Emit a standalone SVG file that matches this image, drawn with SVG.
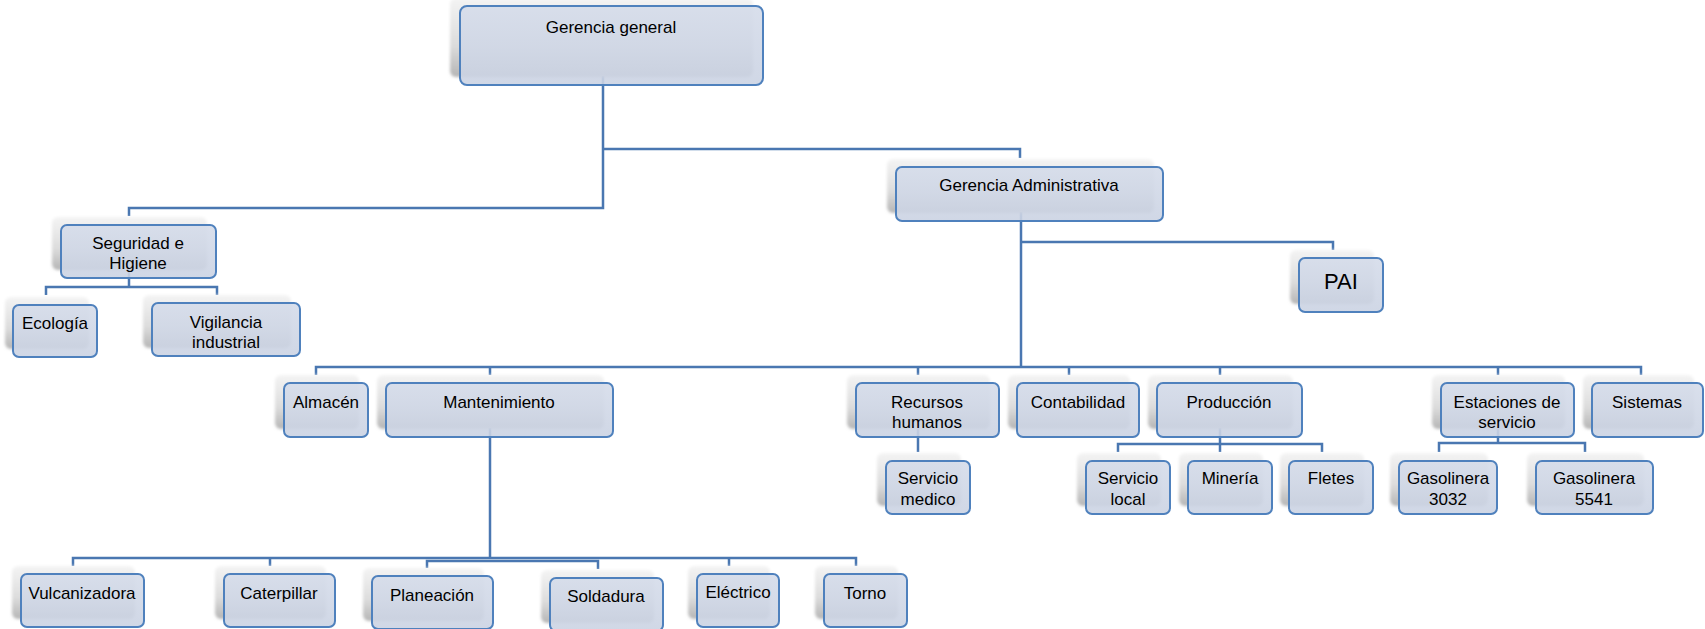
<svg xmlns="http://www.w3.org/2000/svg" width="1705" height="629" viewBox="0 0 1705 629">
<defs>
<linearGradient id="sh" x1="0" y1="0" x2="0" y2="1">
<stop offset="0" stop-color="#f4f4f4"/>
<stop offset="0.6" stop-color="#dcdcdc"/>
<stop offset="1" stop-color="#b5b5b5"/>
</linearGradient>
<linearGradient id="bx" x1="0" y1="0" x2="0" y2="1">
<stop offset="0" stop-color="#d5dcea"/>
<stop offset="1" stop-color="#cbd3e3"/>
</linearGradient>
<filter id="blur" x="-10%" y="-20%" width="120%" height="140%">
<feGaussianBlur stdDeviation="1.6"/>
</filter>
<style>
.c{fill:none;stroke:#4a77b1;stroke-width:2.5}
.s{fill:url(#sh);filter:url(#blur)}
.b{fill:url(#bx);fill-opacity:0.9;stroke:#4f81bd;stroke-width:2}
.t{font-family:"Liberation Sans",Arial,sans-serif;font-size:17px;fill:#000;text-anchor:middle}
.p{font-size:22px}
</style>
</defs>
<rect width="1705" height="629" fill="#fff"/>
<g id="connectors">
<path class="c" d="M603,76 V208 H129 V216"/>
<path class="c" d="M603,149 H1020 V158"/>
<path class="c" d="M1021,212 V367"/>
<path class="c" d="M1021,242 H1333 V250"/>
<path class="c" d="M316,375 V367 H1641 V375"/>
<path class="c" d="M490,367 V375 M918,367 V375 M1069,367 V375 M1220,367 V375 M1498,367 V375"/>
<path class="c" d="M129,270 V287"/>
<path class="c" d="M46,295 V287 H217 V295"/>
<path class="c" d="M490,428 V558"/>
<path class="c" d="M73,566 V558 H856 V566"/>
<path class="c" d="M270,558 V566 M729,558 V566"/>
<path class="c" d="M427,568 V561 H598 V569"/>
<path class="c" d="M918,428 V452"/>
<path class="c" d="M1220,428 V452"/>
<path class="c" d="M1118,452 V444 H1322 V452"/>
<path class="c" d="M1498,428 V443"/>
<path class="c" d="M1439,452 V443 H1585 V452"/>
</g>
<g id="gerencia-general">
<rect class="s" x="450" y="-2" width="303" height="79" rx="6"/>
<rect class="b" x="460" y="6" width="303" height="79" rx="7"/>
<text class="t" x="611" y="33">Gerencia general</text>
</g>
<g id="gerencia-administrativa">
<rect class="s" x="887" y="159" width="267" height="54" rx="6"/>
<rect class="b" x="896" y="167" width="267" height="54" rx="6"/>
<text class="t" x="1029" y="191">Gerencia Administrativa</text>
</g>
<g id="seguridad-higiene">
<rect class="s" x="52" y="217" width="155" height="53" rx="6"/>
<rect class="b" x="61" y="225" width="155" height="53" rx="6"/>
<text class="t" x="138" y="249">Seguridad e</text>
<text class="t" x="138" y="269">Higiene</text>
</g>
<g id="ecologia">
<rect class="s" x="5" y="297" width="84" height="52" rx="6"/>
<rect class="b" x="13" y="305" width="84" height="52" rx="6"/>
<text class="t" x="55" y="329">Ecología</text>
</g>
<g id="vigilancia-industrial">
<rect class="s" x="143" y="295" width="148" height="53" rx="6"/>
<rect class="b" x="152" y="303" width="148" height="53" rx="6"/>
<text class="t" x="226" y="328">Vigilancia</text>
<text class="t" x="226" y="348">industrial</text>
</g>
<g id="pai">
<rect class="s" x="1290" y="250" width="84" height="54" rx="6"/>
<rect class="b" x="1299" y="258" width="84" height="54" rx="6"/>
<text class="t p" x="1341" y="289">PAI</text>
</g>
<g id="almacen">
<rect class="s" x="275" y="375" width="84" height="54" rx="6"/>
<rect class="b" x="284" y="383" width="84" height="54" rx="6"/>
<text class="t" x="326" y="408">Almacén</text>
</g>
<g id="mantenimiento">
<rect class="s" x="377" y="375" width="227" height="54" rx="6"/>
<rect class="b" x="386" y="383" width="227" height="54" rx="6"/>
<text class="t" x="499" y="408">Mantenimiento</text>
</g>
<g id="recursos-humanos">
<rect class="s" x="847" y="375" width="143" height="54" rx="6"/>
<rect class="b" x="856" y="383" width="143" height="54" rx="6"/>
<text class="t" x="927" y="408">Recursos</text>
<text class="t" x="927" y="428">humanos</text>
</g>
<g id="contabilidad">
<rect class="s" x="1008" y="375" width="122" height="54" rx="6"/>
<rect class="b" x="1017" y="383" width="122" height="54" rx="6"/>
<text class="t" x="1078" y="408">Contabilidad</text>
</g>
<g id="produccion">
<rect class="s" x="1148" y="375" width="145" height="54" rx="6"/>
<rect class="b" x="1157" y="383" width="145" height="54" rx="6"/>
<text class="t" x="1229" y="408">Producción</text>
</g>
<g id="estaciones-servicio">
<rect class="s" x="1432" y="375" width="133" height="54" rx="6"/>
<rect class="b" x="1441" y="383" width="133" height="54" rx="6"/>
<text class="t" x="1507" y="408">Estaciones de</text>
<text class="t" x="1507" y="428">servicio</text>
</g>
<g id="sistemas">
<rect class="s" x="1583" y="375" width="111" height="54" rx="6"/>
<rect class="b" x="1592" y="383" width="111" height="54" rx="6"/>
<text class="t" x="1647" y="408">Sistemas</text>
</g>
<g id="servicio-medico">
<rect class="s" x="877" y="453" width="84" height="53" rx="6"/>
<rect class="b" x="886" y="461" width="84" height="53" rx="6"/>
<text class="t" x="928" y="484">Servicio</text>
<text class="t" x="928" y="505">medico</text>
</g>
<g id="servicio-local">
<rect class="s" x="1077" y="453" width="84" height="53" rx="6"/>
<rect class="b" x="1086" y="461" width="84" height="53" rx="6"/>
<text class="t" x="1128" y="484">Servicio</text>
<text class="t" x="1128" y="505">local</text>
</g>
<g id="mineria">
<rect class="s" x="1179" y="453" width="84" height="53" rx="6"/>
<rect class="b" x="1188" y="461" width="84" height="53" rx="6"/>
<text class="t" x="1230" y="484">Minería</text>
</g>
<g id="fletes">
<rect class="s" x="1280" y="453" width="84" height="53" rx="6"/>
<rect class="b" x="1289" y="461" width="84" height="53" rx="6"/>
<text class="t" x="1331" y="484">Fletes</text>
</g>
<g id="gasolinera-3032">
<rect class="s" x="1390" y="453" width="98" height="53" rx="6"/>
<rect class="b" x="1399" y="461" width="98" height="53" rx="6"/>
<text class="t" x="1448" y="484">Gasolinera</text>
<text class="t" x="1448" y="505">3032</text>
</g>
<g id="gasolinera-5541">
<rect class="s" x="1527" y="453" width="117" height="53" rx="6"/>
<rect class="b" x="1536" y="461" width="117" height="53" rx="6"/>
<text class="t" x="1594" y="484">Gasolinera</text>
<text class="t" x="1594" y="505">5541</text>
</g>
<g id="vulcanizadora">
<rect class="s" x="12" y="566" width="123" height="53" rx="6"/>
<rect class="b" x="21" y="574" width="123" height="53" rx="6"/>
<text class="t" x="82" y="599">Vulcanizadora</text>
</g>
<g id="caterpillar">
<rect class="s" x="215" y="566" width="111" height="53" rx="6"/>
<rect class="b" x="224" y="574" width="111" height="53" rx="6"/>
<text class="t" x="279" y="599">Caterpillar</text>
</g>
<g id="planeacion">
<rect class="s" x="363" y="568" width="121" height="53" rx="6"/>
<rect class="b" x="372" y="576" width="121" height="53" rx="6"/>
<text class="t" x="432" y="601">Planeación</text>
</g>
<g id="soldadura">
<rect class="s" x="541" y="570" width="113" height="53" rx="6"/>
<rect class="b" x="550" y="578" width="113" height="53" rx="6"/>
<text class="t" x="606" y="602">Soldadura</text>
</g>
<g id="electrico">
<rect class="s" x="688" y="566" width="82" height="53" rx="6"/>
<rect class="b" x="697" y="574" width="82" height="53" rx="6"/>
<text class="t" x="738" y="598">Eléctrico</text>
</g>
<g id="torno">
<rect class="s" x="815" y="566" width="83" height="53" rx="6"/>
<rect class="b" x="824" y="574" width="83" height="53" rx="6"/>
<text class="t" x="865" y="599">Torno</text>
</g>
</svg>
